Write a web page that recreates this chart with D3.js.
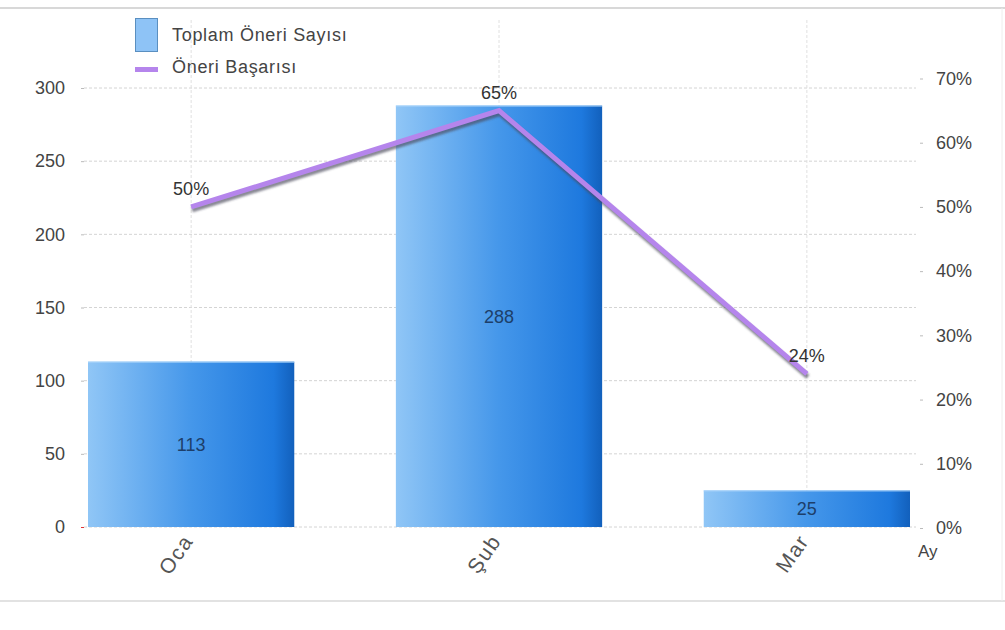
<!DOCTYPE html>
<html><head><meta charset="utf-8">
<script src="https://cdn.jsdelivr.net/npm/d3@7"></script>
<style>
body{margin:0;background:#fff;}
text{font-family:"Liberation Sans",Arial,sans-serif;}
</style></head>
<body><svg id="c" width="1005" height="630"></svg>
<script>
const months = ["Oca", "Şub", "Mar"];
const totals = [113, 288, 25];
const success = [0.50, 0.65, 0.24];
const leftTicks = [0, 50, 100, 150, 200, 250, 300];
const rightTicks = [0, 0.1, 0.2, 0.3, 0.4, 0.5, 0.6, 0.7];
const seriesNames = ["Toplam Öneri Sayısı", "Öneri Başarısı"];
const axisTitle = "Ay";

(function(){
const svg = d3.select("#c");
const W = 1005;
const pLeft = 84, pRight = 916, pTop = 88, pBottom = 527;
const FF = '"Liberation Sans",Arial,sans-serif';
const font = 18;

// frame lines
svg.append("line").attr("x1",0).attr("x2",W).attr("y1",8).attr("y2",8).attr("stroke","#d8d8d8").attr("stroke-width",2);
svg.append("line").attr("x1",0).attr("x2",W).attr("y1",601).attr("y2",601).attr("stroke","#e2e2e2").attr("stroke-width",2);
svg.append("line").attr("x1",1002).attr("x2",1002).attr("y1",8).attr("y2",601).attr("stroke","#eeeeee").attr("stroke-width",1);

const defs = svg.append("defs");
const g = defs.append("linearGradient").attr("id","barGrad").attr("x1","0").attr("x2","1").attr("y1","0").attr("y2","0");
g.append("stop").attr("offset","0%").attr("stop-color","#90c6f6");
g.append("stop").attr("offset","50%").attr("stop-color","#4597ea");
g.append("stop").attr("offset","90%").attr("stop-color","#1e79de");
g.append("stop").attr("offset","100%").attr("stop-color","#1260bc");
const sh = defs.append("filter").attr("id","shadow").attr("x","-10%").attr("y","-10%").attr("width","120%").attr("height","130%");
sh.append("feGaussianBlur").attr("stdDeviation",1.2);

const x = d3.scaleBand().domain(months).range([88, 910]).paddingInner(0.33).paddingOuter(0);
const y = d3.scaleLinear().domain([0, 300]).range([pBottom, pTop]);
const y2 = d3.scaleLinear().domain([0, 0.7]).range([pBottom + 1, 78.5]);

// horizontal grid
svg.append("g").selectAll("line").data(leftTicks).join("line")
  .attr("x1", pLeft).attr("x2", pRight)
  .attr("y1", d => y(d)).attr("y2", d => y(d))
  .attr("stroke","#d4d4d4").attr("stroke-dasharray","3,2").attr("stroke-width",1);
// vertical grid
svg.append("g").selectAll("line").data(months).join("line")
  .attr("x1", d => x(d) + x.bandwidth()/2).attr("x2", d => x(d) + x.bandwidth()/2)
  .attr("y1", 20).attr("y2", pBottom)
  .attr("stroke","#e0e0e0").attr("stroke-dasharray","3,2").attr("stroke-width",1);

// left axis
const la = svg.append("g").attr("transform",`translate(${pLeft},0)`)
  .call(d3.axisLeft(y).tickValues(leftTicks).tickSize(3).tickPadding(16));
la.select(".domain").remove();
la.selectAll("line").attr("stroke","#bbb");
la.selectAll("text").attr("font-size",font).attr("fill","#444").attr("font-family",FF);
la.selectAll(".tick").filter(d => d === 0).select("line").attr("stroke","#e03030");

// right axis
const ra = svg.append("g").attr("transform",`translate(${pRight+4},0)`)
  .call(d3.axisRight(y2).tickValues(rightTicks).tickFormat(d3.format(".0%")).tickSize(3).tickPadding(13));
ra.select(".domain").remove();
ra.selectAll("line").attr("stroke","#bbb");
ra.selectAll("text").attr("font-size",font).attr("fill","#444").attr("font-family",FF);

// bars
svg.append("g").selectAll("rect").data(months).join("rect")
  .attr("x", d => x(d)).attr("width", x.bandwidth())
  .attr("y", (d,i) => y(totals[i])).attr("height", (d,i) => pBottom - y(totals[i]))
  .attr("fill","url(#barGrad)");
svg.append("g").selectAll("line").data(months).join("line")
  .attr("x1", d => x(d)).attr("x2", d => x(d) + x.bandwidth())
  .attr("y1", (d,i) => y(totals[i]) + 0.5).attr("y2", (d,i) => y(totals[i]) + 0.5)
  .attr("stroke","#a9d4fa").attr("stroke-width",1);
// bar labels
svg.append("g").selectAll("text").data(months).join("text")
  .attr("x", d => x(d) + x.bandwidth()/2)
  .attr("y", (d,i) => (y(totals[i]) + pBottom)/2)
  .attr("dy","0.35em").attr("text-anchor","middle")
  .attr("font-size",font).attr("fill","#1d3f6a")
  .text((d,i) => totals[i]);

// line
const lineGen = d3.line().x(d => x(d.m) + x.bandwidth()/2).y(d => y2(d.v));
const pts = months.map((m,i) => ({m, v: success[i]}));
svg.append("path").datum(pts).attr("d", lineGen).attr("transform","translate(1,3)")
  .attr("fill","none").attr("stroke","#4a4a5a").attr("stroke-opacity",0.65).attr("stroke-width",5).attr("filter","url(#shadow)");
svg.append("path").datum(pts).attr("d", lineGen)
  .attr("fill","none").attr("stroke","#b585ec").attr("stroke-width",5).attr("stroke-linejoin","miter");
// line labels
svg.append("g").selectAll("text").data(pts).join("text")
  .attr("x", d => x(d.m) + x.bandwidth()/2)
  .attr("y", d => y2(d.v) - 12)
  .attr("text-anchor","middle").attr("font-size",font).attr("fill","#333")
  .text(d => d3.format(".0%")(d.v));

// x labels
svg.append("g").selectAll("text").data(months).join("text")
  .attr("transform", d => `translate(${x(d) + x.bandwidth()/2 + 3},${pBottom + 14}) rotate(-55)`)
  .attr("text-anchor","end").attr("font-size",21).attr("letter-spacing",1.5).attr("fill","#555")
  .text(d => d);

// axis title
svg.append("text").attr("x", 918).attr("y", 557).attr("font-size",17).attr("fill","#444").text(axisTitle);

// legend
svg.append("rect").attr("x",135.5).attr("y",18.5).attr("width",22).attr("height",33)
  .attr("fill","#8ec3f6").attr("stroke","#5a8fc0").attr("stroke-width",1);
svg.append("text").attr("x",172).attr("y",35).attr("dy","0.35em").attr("font-size",font).attr("letter-spacing",0.7).attr("fill","#444").text(seriesNames[0]);
svg.append("rect").attr("x",135).attr("y",67).attr("width",23).attr("height",5).attr("fill","#b585ec");
svg.append("text").attr("x",172).attr("y",67).attr("dy","0.35em").attr("font-size",font).attr("letter-spacing",0.7).attr("fill","#444").text(seriesNames[1]);
})();
</script></body></html>
